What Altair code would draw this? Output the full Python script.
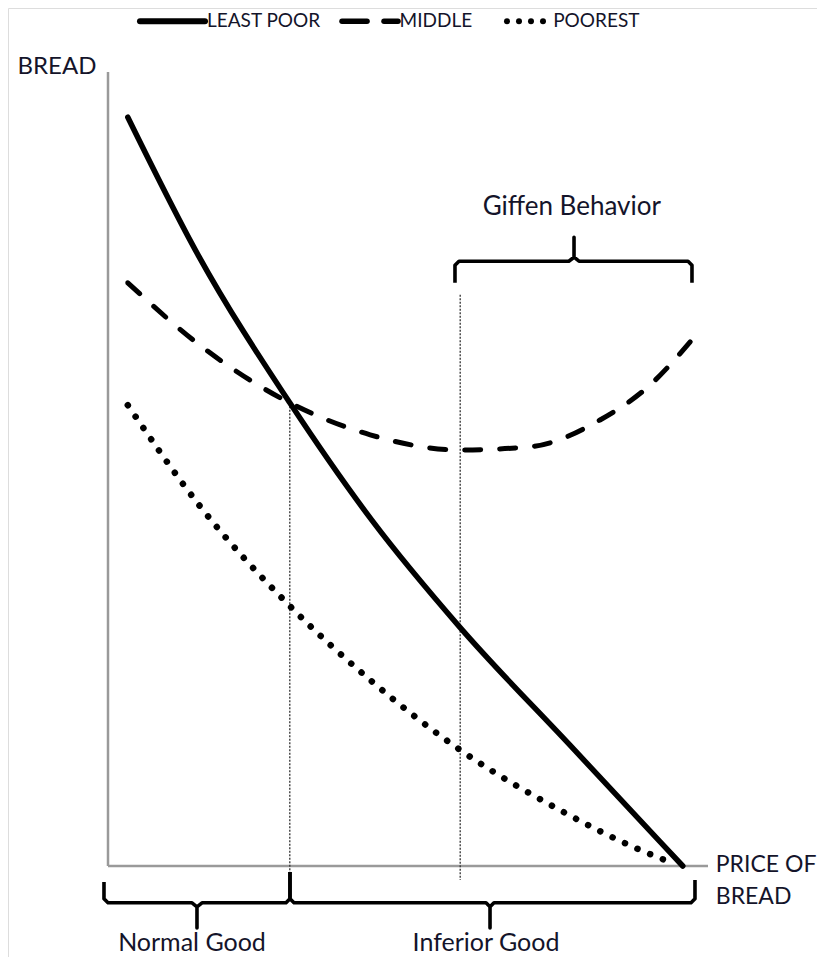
import altair as alt
import pandas as pd

# ---- curve data (price of bread, quantity of bread) ----
least_price = [3.3, 15.0, 30.3, 44.0, 58.7, 77.0, 95.8]
least_bread = [93.6, 76.4, 57.9, 43.2, 29.8, 15.1, 0.0]

middle_price = [3.3, 15.3, 30.3, 43.7, 58.7, 70.3, 82.0, 90.3, 97.3]
middle_bread = [72.9, 65.1, 57.9, 53.9, 52.0, 52.4, 55.75, 60.1, 65.75]

poorest_price = [3.3, 15.3, 30.3, 43.7, 58.7, 75.3, 88.7, 94.5]
poorest_bread = [57.6, 45.0, 32.5, 23.25, 14.5, 7.0, 2.0, 0.25]

# ---- guides ----
guide_price = [30.3, 58.7]
guide_top = [57.9, 71.4]
guide_bottom = [-1.5, -1.75]

axis_x_end = 100.0
axis_y_end = 99.25

# brackets
giffen_px = [57.83, 57.83, 58.5, 76.8, 77.67, 77.67, 77.67, 78.5, 96.67, 97.33, 97.33]
giffen_py = [72.9, 75.1, 75.6, 75.6, 76.1, 78.6, 76.1, 75.6, 75.6, 75.1, 72.9]

normal_px = [-0.67, -0.67, 0.0, 14.0, 14.83, 14.83, 14.83, 15.67, 29.67, 30.33, 30.33]
normal_py = [-2.0, -4.1, -4.6, -4.6, -5.1, -7.75, -5.1, -4.6, -4.6, -4.1, -0.75]

inferior_px = [30.33, 30.33, 31.0, 63.0, 63.67, 63.67, 63.67, 64.33, 97.17, 97.83, 97.83]
inferior_py = [-0.75, -4.1, -4.6, -4.6, -5.1, -7.75, -5.1, -4.6, -4.6, -4.1, -1.75]

# labels
label_text = ["BREAD", "PRICE OF", "BREAD", "Giffen Behavior", "Normal Good", "Inferior Good"]
label_price = [-8.5, 101.3, 101.3, 77.3, 14.0, 63.0]
label_bread = [99.9, 0.125, -3.875, 82.4, -10.6, -10.6]
label_align = ["center", "left", "left", "center", "center", "center"]
label_base = ["middle", "middle", "middle", "middle", "alphabetic", "alphabetic"]
label_size = [24, 23, 23, 26, 25, 25]

# legend
legend_text = ["LEAST POOR", "MIDDLE", "POOREST"]
legend_text_price = [16.5, 48.6, 74.2]
legend_y = 105.6
legend_solid = [5.33, 16.17]
legend_dash_start = [39.0, 46.0]
legend_dash_end = [43.17, 48.33]
legend_dots = [66.5, 68.5, 70.5, 72.5]

W, H = 809, 949
xs = alt.Scale(domain=[-16.667, 118.167])
ys = alt.Scale(domain=[-11.375, 107.25])
X = lambda f: alt.X(f, scale=xs, axis=None)
Y = lambda f: alt.Y(f, scale=ys, axis=None)

INK = "#000000"
TXT = "#14142a"
FONT = "Lato"


def curve(px, py):
    return pd.DataFrame({"p": px, "b": py, "i": list(range(len(px)))})


def line_layer(df, **kw):
    return alt.Chart(df).mark_line(**kw).encode(
        x=X("p:Q"), y=Y("b:Q"), order=alt.Order("i:Q"))


axes_df = pd.DataFrame({"p": [0, 0], "b": [0, 0], "p2": [0, axis_x_end], "b2": [axis_y_end, 0]})
axes = alt.Chart(axes_df).mark_rule(color="#9a9a9a", strokeWidth=2.5).encode(
    x=X("p:Q"), y=Y("b:Q"), x2="p2:Q", y2="b2:Q")

guides_df = pd.DataFrame({"p": guide_price, "b": guide_top, "b2": guide_bottom})
guides = alt.Chart(guides_df).mark_rule(color="#333333", strokeWidth=1.3, strokeDash=[2, 1.5]).encode(
    x=X("p:Q"), y=Y("b:Q"), y2="b2:Q")

least = line_layer(curve(least_price, least_bread), color=INK, strokeWidth=5.5,
                   interpolate="monotone", strokeCap="round")
middle = line_layer(curve(middle_price, middle_bread), color=INK, strokeWidth=5,
                    interpolate="monotone", strokeCap="round", strokeDash=[16, 19])
poorest = line_layer(curve(poorest_price, poorest_bread), color=INK, strokeWidth=6.5,
                     interpolate="monotone", strokeCap="round", strokeDash=[0.1, 13.6])

br_kw = dict(color=INK, strokeWidth=3.6, strokeJoin="round", strokeCap="butt")
giffen = line_layer(curve(giffen_px, giffen_py), **br_kw)
normal = line_layer(curve(normal_px, normal_py), **br_kw)
inferior = line_layer(curve(inferior_px, inferior_py), **br_kw)

lab_df = pd.DataFrame({"t": label_text, "p": label_price, "b": label_bread,
                       "a": label_align, "bl": label_base, "s": label_size})
label_layers = []
for i in range(len(label_text)):
    label_layers.append(
        alt.Chart(lab_df.iloc[[i]]).mark_text(
            font=FONT, fontSize=label_size[i], color=TXT,
            align=label_align[i], baseline=label_base[i]).encode(
            x=X("p:Q"), y=Y("b:Q"), text="t:N"))

leg_txt = alt.Chart(pd.DataFrame({"t": legend_text, "p": legend_text_price, "b": [legend_y] * 3})).mark_text(
    font=FONT, fontSize=19, color=TXT, align="left", baseline="middle").encode(
    x=X("p:Q"), y=Y("b:Q"), text="t:N")
leg_solid = alt.Chart(pd.DataFrame({"p": [legend_solid[0]], "p2": [legend_solid[1]], "b": [legend_y]})).mark_rule(
    color=INK, strokeWidth=6, strokeCap="round").encode(x=X("p:Q"), x2="p2:Q", y=Y("b:Q"))
leg_dash = alt.Chart(pd.DataFrame({"p": legend_dash_start, "p2": legend_dash_end, "b": [legend_y] * 2})).mark_rule(
    color=INK, strokeWidth=5.5, strokeCap="round").encode(x=X("p:Q"), x2="p2:Q", y=Y("b:Q"))
leg_dots = alt.Chart(pd.DataFrame({"p": legend_dots, "b": [legend_y] * 4})).mark_circle(
    color=INK, size=36, opacity=1).encode(x=X("p:Q"), y=Y("b:Q"))

chart = alt.layer(
    axes, guides, poorest, middle, least, giffen, normal, inferior,
    *label_layers, leg_txt, leg_solid, leg_dash, leg_dots
).properties(width=W, height=H, padding=0, autosize=alt.AutoSizeParams(type="none")
).configure_view(stroke=None).configure(background="white")

chart.save("out.html", embed_options={"renderer": "svg", "actions": False})
